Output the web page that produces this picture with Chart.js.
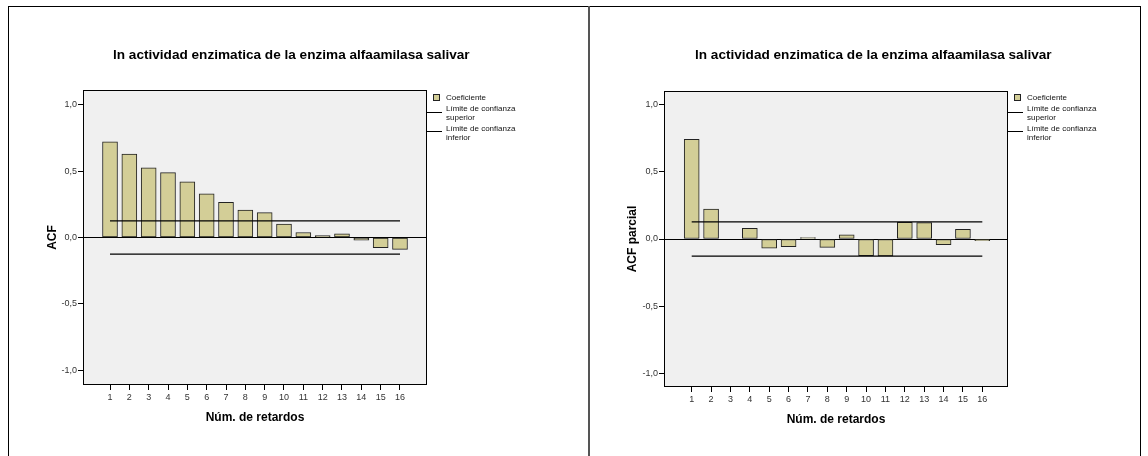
<!DOCTYPE html>
<html lang="es">
<head>
<meta charset="utf-8">
<script src="https://cdn.jsdelivr.net/npm/chart.js@4.4.1/dist/chart.umd.min.js"></script>
<style>
  html, body { margin: 0; padding: 0; background: #fff; }
  body { width: 1148px; height: 456px; position: relative; overflow: hidden; }
  .frame {
    position: absolute; left: 8px; top: 6px; width: 1133px; height: 470px;
    border: 1px solid #000; border-bottom: none; box-sizing: border-box;
  }
  .divider { position: absolute; left: 588px; top: 6px; width: 2px; height: 460px; background: #555; }
  #acf-chart { position: absolute; left: 0; top: 0; }
  #pacf-chart { position: absolute; left: 590px; top: 0; }
</style>
</head>
<body>
<div class="frame"></div>
<div class="divider"></div>
<canvas id="acf-chart" width="589" height="456"></canvas>
<canvas id="pacf-chart" width="558" height="456"></canvas>

<script>
  // Retardos y coeficientes
  const lags = [1, 2, 3, 4, 5, 6, 7, 8, 9, 10, 11, 12, 13, 14, 15, 16];
  const acfValues = [0.722, 0.629, 0.526, 0.489, 0.421, 0.329, 0.266, 0.206,
                     0.188, 0.101, 0.038, 0.015, 0.028, -0.020, -0.077, -0.090];
  const pacfValues = [0.744, 0.224, 0.000, 0.080, -0.069, -0.057, 0.010, -0.062,
                      0.032, -0.125, -0.127, 0.125, 0.122, -0.042, 0.072, -0.013];

  // Límites de confianza (superior, inferior)
  const acfLimits = [0.126, -0.126];
  const pacfLimits = [0.127, -0.127];

  const yTicks = [-1.0, -0.5, 0.0, 0.5, 1.0];
  const chartTitle = 'ln actividad enzimatica de la enzima alfaamilasa salivar';
  const xTitle = 'Núm. de retardos';
  const legendLabels = ['Coeficiente', ['Límite de confianza', 'superior'], ['Límite de confianza', 'inferior']];

  const FONT = '"Liberation Sans", Arial, sans-serif';
  const BAR_COLOR = '#d3ce97';

  Chart.defaults.font.family = FONT;

  // Fondo del área de trazado, marco, título y leyenda
  const panelDecor = {
    id: 'panelDecor',
    beforeDraw(chart) {
      const { ctx, chartArea: a } = chart;
      ctx.save();
      ctx.fillStyle = '#f0f0f0';
      ctx.fillRect(a.left, a.top, a.right - a.left, a.bottom - a.top);
      ctx.restore();
    },
    afterDraw(chart, args, opts) {
      const { ctx, chartArea: a } = chart;
      ctx.save();
      ctx.strokeStyle = '#000';
      ctx.lineWidth = 1;
      ctx.strokeRect(a.left + 0.5, a.top + 0.5, a.right - a.left - 1, a.bottom - a.top - 1);

      // título
      ctx.fillStyle = '#000';
      ctx.font = 'bold 13.6px ' + FONT;
      ctx.textBaseline = 'middle';
      ctx.textAlign = 'left';
      ctx.fillText(chartTitle, opts.titleX, 55.5);

      // leyenda
      const lx = a.right;
      ctx.fillStyle = BAR_COLOR;
      ctx.fillRect(lx + 6.5, 94.5, 6, 6);
      ctx.strokeStyle = '#222';
      ctx.strokeRect(lx + 6.5, 94.5, 6, 6);

      ctx.strokeStyle = '#000';
      ctx.beginPath();
      ctx.moveTo(lx, 112.5); ctx.lineTo(lx + 15, 112.5);
      ctx.moveTo(lx, 131.5); ctx.lineTo(lx + 15, 131.5);
      ctx.stroke();

      ctx.fillStyle = '#111';
      ctx.font = '8px ' + FONT;
      ctx.fillText(legendLabels[0], lx + 19, 97.5);
      ctx.fillText(legendLabels[1][0], lx + 19, 108.5);
      ctx.fillText(legendLabels[1][1], lx + 19, 117.5);
      ctx.fillText(legendLabels[2][0], lx + 19, 128.5);
      ctx.fillText(legendLabels[2][1], lx + 19, 137.5);
      ctx.restore();
    }
  };

  function makeChart(id, values, limits, yTitle, g) {
    const ctx = document.getElementById(id).getContext('2d');
    const first = lags[0], last = lags[lags.length - 1];
    const limitLine = (label, y) => ({
      type: 'line',
      label: label,
      data: [{ x: first, y: y }, { x: last, y: y }],
      borderColor: '#000',
      borderWidth: 1.3,
      pointRadius: 0,
      fill: false,
      order: 1
    });
    return new Chart(ctx, {
      type: 'bar',
      data: {
        datasets: [{
          type: 'bar',
          label: legendLabels[0],
          data: lags.map((l, i) => ({ x: l, y: values[i] })),
          backgroundColor: BAR_COLOR,
          borderColor: '#222',
          borderWidth: 1,
          borderSkipped: false,
          barThickness: 15,
          order: 2
        },
        limitLine(legendLabels[1].join(' '), limits[0]),
        limitLine(legendLabels[2].join(' '), limits[1])]
      },
      options: {
        responsive: false,
        animation: false,
        layout: { padding: { left: 0, top: g.top, right: g.right, bottom: 0 } },
        plugins: {
          legend: { display: false },
          tooltip: { enabled: false },
          panelDecor: { titleX: g.titleX }
        },
        scales: {
          x: {
            type: 'linear',
            offset: false,
            min: g.xMin,
            max: g.xMax,
            afterBuildTicks: s => { s.ticks = lags.map(v => ({ value: v })); },
            afterFit: s => { s.height = g.xHeight; },
            grid: { offset: false, drawOnChartArea: false, tickLength: 5, tickColor: '#000' },
            border: { display: false },
            ticks: {
              autoSkip: false, maxRotation: 0, padding: 2,
              color: '#333', font: { size: 9 },
              callback: v => String(v)
            },
            title: {
              display: true, text: xTitle, color: '#000',
              font: { size: 12, weight: 'bold' },
              padding: { top: 0, bottom: g.xTitlePad }
            }
          },
          y: {
            min: -g.yMax,
            max: g.yMax,
            afterBuildTicks: s => { s.ticks = yTicks.map(v => ({ value: v })); },
            afterFit: s => { s.width = g.yWidth; },
            grid: {
              color: c => (c.tick && c.tick.value === 0 ? '#000' : 'rgba(0,0,0,0)'),
              tickColor: '#000',
              tickLength: 5
            },
            border: { display: false },
            ticks: {
              padding: 1, color: '#333', font: { size: 9 },
              callback: v => v.toFixed(1).replace('.', ',')
            },
            title: {
              display: true, text: yTitle, color: '#000',
              font: { size: 12, weight: 'bold' },
              padding: { top: g.yTitlePad, bottom: 0 }
            }
          }
        }
      },
      plugins: [panelDecor]
    });
  }

  makeChart('acf-chart', acfValues, acfLimits, 'ACF', {
    top: 90, right: 162, yWidth: 83, xHeight: 71,
    xMin: -0.397, xMax: 17.397, yMax: 1.113,
    xTitlePad: 30.8, yTitlePad: 45.5, titleX: 113
  });

  makeChart('pacf-chart', pacfValues, pacfLimits, 'ACF parcial', {
    top: 91, right: 140, yWidth: 74, xHeight: 69,
    xMin: -0.43, xMax: 17.326, yMax: 1.104,
    xTitlePad: 28.8, yTitlePad: 35.5, titleX: 105
  });
</script>
</body>
</html>
